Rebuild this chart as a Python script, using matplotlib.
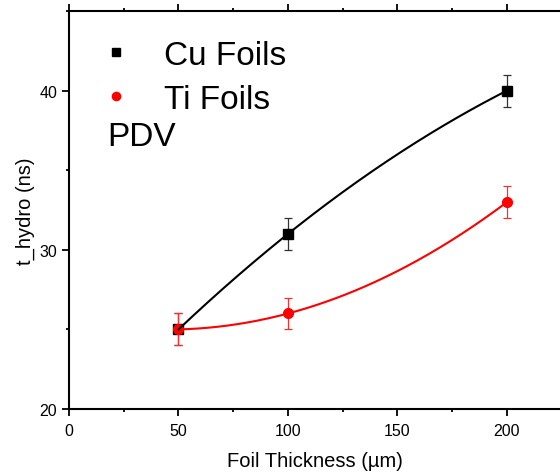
import numpy as np
import matplotlib
matplotlib.use("Agg")
import matplotlib.pyplot as plt
from matplotlib.ticker import MultipleLocator

plt.rcParams['font.family'] = ['Liberation Sans', 'DejaVu Sans']

thickness = [50, 100, 200]
cu_t = [25, 31, 40]
cu_err = [1, 1, 1]
ti_t = [25, 26, 33]
ti_err = [1, 1, 1]

W, H = 560, 477
fig = plt.figure(figsize=(W / 100, H / 100), dpi=100)
x0, xr = 69, 2.19
xmax = 232
ax = fig.add_axes([x0 / W, (H - 410) / H, xmax * xr / W, (410 - 12) / H])
ax.set_xlim(0, xmax)
ax.set_ylim(20, 45)

ax.errorbar(thickness, cu_t, yerr=cu_err, fmt='none', ecolor='#333333',
            elinewidth=0.9, capsize=3, capthick=0.9, zorder=2)
ax.plot(thickness, cu_t, ls='none', marker='s', ms=6.5, color='black',
        label='Cu Foils', zorder=3)
ax.errorbar(thickness, ti_t, yerr=ti_err, fmt='none', ecolor='#ee3333',
            elinewidth=0.9, capsize=3, capthick=0.9, zorder=4)
ax.plot(thickness, ti_t, ls='none', marker='o', ms=7, color='#ff0000',
        mec='#ff0000', label='Ti Foils', zorder=5)

# fit curves
xf = np.linspace(min(thickness), max(thickness), 200)
cu_fit = np.polyval(np.polyfit(thickness, cu_t, 2), xf)
ti_fit = np.polyval(np.polyfit(thickness, ti_t, 2), xf)
ax.plot(xf, ti_fit, color='#ff0000', lw=1.5, zorder=6)
ax.plot(xf, cu_fit, color='black', lw=1.5, zorder=7)

leg = ax.legend(loc='upper left', bbox_to_anchor=(92 / W, 1 - 41 / H),
                bbox_transform=fig.transFigure, frameon=False, fontsize=24,
                handlelength=1.45, handletextpad=0.72, borderpad=0,
                borderaxespad=0, labelspacing=0.38, markerscale=0.85)
fig.text(107 / W, 1 - 137 / H, 'PDV', fontsize=24, va='center', ha='left')

ax.xaxis.set_major_locator(MultipleLocator(50))
ax.xaxis.set_minor_locator(MultipleLocator(25))
ax.yaxis.set_major_locator(MultipleLocator(10))
ax.yaxis.set_minor_locator(MultipleLocator(5))
ax.tick_params(axis='both', which='both', direction='out', width=1.3,
               labelsize=11.5, colors='black')
ax.tick_params(axis='x', which='both', top=True)
ax.tick_params(axis='x', which='major', pad=5)
ax.tick_params(which='major', length=5)
ax.tick_params(which='minor', length=2.5)
for s in ax.spines.values():
    s.set_linewidth(1.5)

ax.set_xlabel('Foil Thickness (µm)', fontsize=14.5)
ax.xaxis.set_label_coords((315 - x0) / (xmax * xr), -0.105)
ax.set_ylabel('t_hydro (ns)', fontsize=14.5, labelpad=3)

fig.savefig('out.png', dpi=100)
